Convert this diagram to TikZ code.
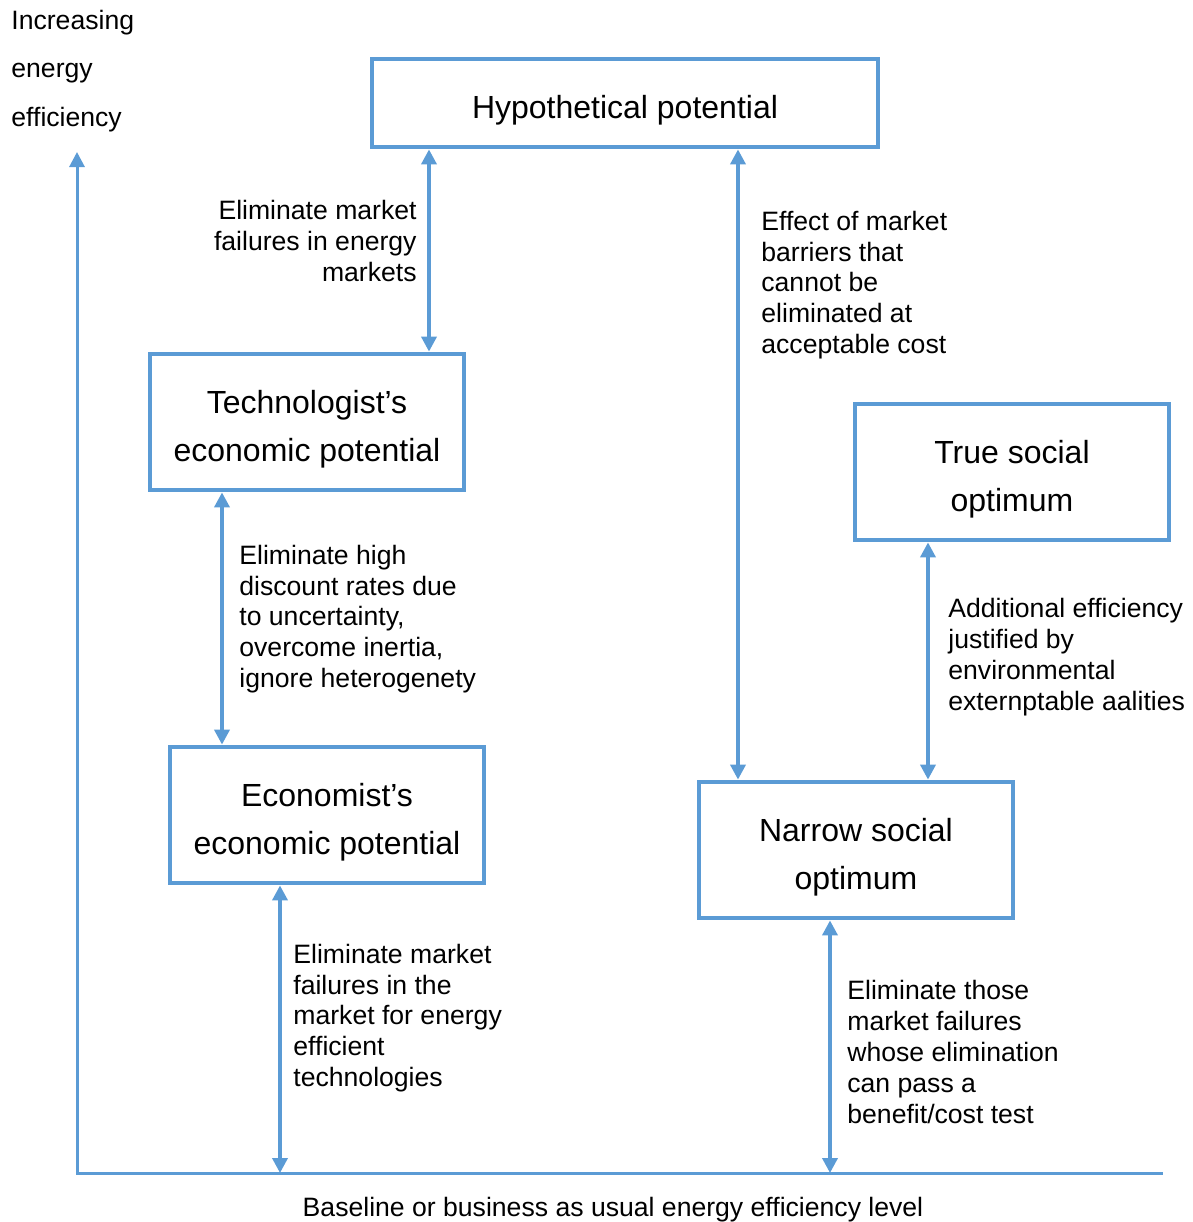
\documentclass[tikz,border=0pt]{standalone}
\usepackage{fontspec}
\setmainfont{Liberation Sans}
\usetikzlibrary{arrows.meta,positioning}
\definecolor{barblue}{HTML}{5B9BD5}
\newcommand{\boxstrut}{\rule{0pt}{18.5pt}}

\begin{document}
\begin{tikzpicture}[
  x=0.5pt, y=-0.5pt,
  box/.style={draw=barblue, line width=2.4pt, minimum width=157pt, minimum height=68pt, align=center, inner sep=2pt, font=\fontsize{16}{24}\selectfont},
  lbl/.style={align=left, inner sep=0pt, font=\fontsize{13.3}{15.4}\selectfont},
  arrow/.style={{Triangle[length=7.5pt,width=7.5pt]}-{Triangle[length=7.5pt,width=7.5pt]}, line width=1.8pt, draw=barblue},
  axis/.style={line width=1.5pt, draw=barblue}
]
\useasboundingbox (0,0) rectangle (1193,1222);

% axes
\coordinate (origin) at (77,1173);
\coordinate (ytop) at (77,152);
\coordinate (xend) at (1163,1173);
\draw[axis, {Triangle[length=7.5pt,width=7.5pt]}-] (ytop) -- (origin) -- (xend);
\node[lbl, anchor=west, font=\fontsize{13.3}{24.3}\selectfont] (ytitle) at (11,71) {Increasing\\energy\\efficiency};
\node[lbl, align=center] (xtitle) at (613,1210) {Baseline or business as usual energy efficiency level};

% potentials
\node[box, minimum width=253pt, minimum height=44pt] (hyp) at (625,103) {\boxstrut Hypothetical potential};
\node[box] (tech) at (307,422) {\boxstrut Technologist’s\\economic potential};
\node[box] (econ) at (327,815) {\boxstrut Economist’s\\economic potential};
\node[box] (truesoc) at (1012,472) {\boxstrut True social\\optimum};
\node[box] (narrow) at (856,850) {\boxstrut Narrow social\\optimum};

% connectors
\draw[arrow] ([xshift=61pt]tech.north) -- ([xshift=61pt]tech.north |- hyp.south);
\draw[arrow] ([xshift=-42.5pt]tech.south) -- ([xshift=-42.5pt]tech.south |- econ.north);
\draw[arrow] ([xshift=-59pt]narrow.north) -- ([xshift=-59pt]narrow.north |- hyp.south);
\draw[arrow] ([xshift=36pt]narrow.north) -- ([xshift=36pt]narrow.north |- truesoc.south);
\draw[arrow] ([xshift=-23.5pt]econ.south) -- ([xshift=-23.5pt]econ.south |- origin);
\draw[arrow] ([xshift=-13pt]narrow.south) -- ([xshift=-13pt]narrow.south |- origin);

% labels
\node[lbl, align=right, anchor=east] (lbltech) at (417,241) {Eliminate market\\failures in energy\\markets};
\node[lbl, anchor=west] (lblecon) at (239,619) {Eliminate high\\discount rates due\\to uncertainty,\\overcome inertia,\\ignore heterogenety};
\node[lbl, anchor=west] (lblbarrier) at (761,285) {Effect of market\\barriers that\\cannot be\\eliminated at\\acceptable cost};
\node[lbl, anchor=west] (lbltrue) at (948,657) {Additional efficiency\\justified by\\environmental\\externptable aalities};
\node[lbl, anchor=west] (lblbase) at (293,1018) {Eliminate market\\failures in the\\market for energy\\efficient\\technologies};
\node[lbl, anchor=west] (lblnarrow) at (847,1052) {Eliminate those\\market failures\\whose elimination\\can pass a\\benefit/cost test};
\end{tikzpicture}
\end{document}
